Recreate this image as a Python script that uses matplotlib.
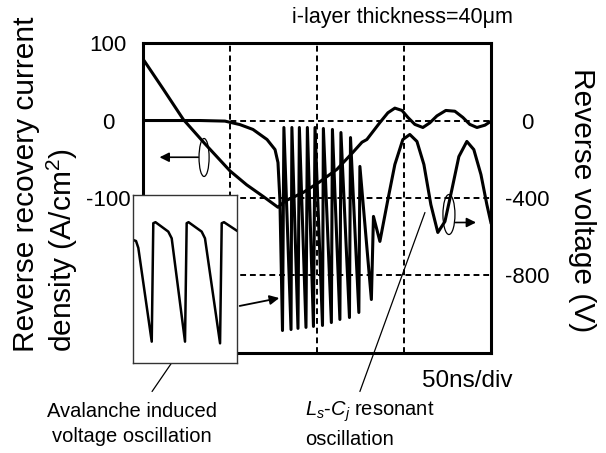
import matplotlib
matplotlib.use("Agg")
from matplotlib import pyplot as plt
from matplotlib.patches import Ellipse

plt.rcParams['font.family'] = ['Liberation Sans', 'DejaVu Sans']
plt.rcParams['mathtext.fontset'] = 'custom'
plt.rcParams['mathtext.rm'] = 'Liberation Sans'
plt.rcParams['mathtext.it'] = 'Liberation Sans:italic'
plt.rcParams['axes.unicode_minus'] = False

# time axis in ns, 50 ns/div
cur_t = [0.2, 11.5, 23.2, 35.6, 50.0, 59.6, 69.1, 77.6, 81.6, 92.0, 101.7, 111.5,
         120.7, 125.9, 128.7, 136.2, 140.8, 144.8, 148.9, 152.3, 156.3, 160.9,
         164.9, 169.0, 174.1, 179.3, 183.9, 187.9, 192.0, 196.6, 200.0]
cur_j = [78.7, 41, 1.3, -30, -65, -83, -98, -112, -104, -93, -79, -63,
         -41, -28, -24.5, -2.6, 10, 16, 13, 4, -5, -9,
         -3, 6, 13, 12, 4, -5, -9, -6, -1]

volt_t = [0, 32.8, 47.1, 55.7, 63.2, 71.3, 75.9, 77.6, 78.7, 80.2,
          81.0, 85.1, 85.6, 89.1, 89.9, 93.7, 94.5, 98.0, 98.9, 103.2, 103.7,
          108.3, 108.9, 113.2, 113.8, 118.7, 119.3, 124.1, 124.7, 131.3, 132.5,
          136.2, 140.8, 144.8, 149.4, 153.4, 157.5, 161.5, 165.5, 169.5, 173.6,
          177.6, 181.6, 186.2, 190.2, 194.3, 197.7, 200.0]
volt_v = [0, 0, -3, -21, -46, -98, -150, -217, -408, -1084,
          -36, -1079, -36, -1073, -36, -1068, -36, -1063, -36, -1058, -41,
          -1043, -46, -1027, -62, -1017, -88, -991, -237, -924, -495,
          -624, -408, -227, -98, -72, -108, -227, -434, -578, -521,
          -356, -186, -108, -150, -279, -434, -526]

# zoomed avalanche waveform (arbitrary units)
zoom_t = [0.003, 0.029, 0.051, 0.180, 0.195, 0.216, 0.339, 0.372, 0.500, 0.516,
          0.534, 0.660, 0.692, 0.837, 0.853, 0.875, 0.997]
zoom_v = [0.732, 0.726, 0.685, 0.127, 0.832, 0.838, 0.782, 0.742, 0.127, 0.832,
          0.838, 0.782, 0.742, 0.117, 0.832, 0.838, 0.788]

cur_ticks = [100, 0, -100]
volt_ticks = [0, -400, -800]
grid_t = [50, 100, 150]

fig = plt.figure(figsize=(6.06, 4.53), dpi=100, facecolor='white')
ax = fig.add_axes([0.236, 0.2208, 0.574, 0.6842])
ax2 = ax.twinx()

ax.set_xlim(0, 200)
ax.set_ylim(-300, 100)
ax2.set_ylim(-1200, 400)

ax.set_xticks(grid_t)
ax.set_xticklabels([])
ax.tick_params(axis='x', length=0)
ax.grid(axis='x', color='k', ls=(0, (3, 2)), lw=1.4)

ax.set_yticks(cur_ticks)
ax.tick_params(axis='y', length=0, pad=25, labelsize=16)
for lab in ax.get_yticklabels():
    lab.set_horizontalalignment('center')

ax2.set_yticks(volt_ticks)
ax2.tick_params(axis='y', length=0, pad=26, labelsize=16)
for lab in ax2.get_yticklabels():
    lab.set_horizontalalignment('center')
ax2.grid(axis='y', color='k', ls=(0, (3, 2)), lw=1.4)

for s in ax.spines.values():
    s.set_linewidth(2.2)
for s in ax2.spines.values():
    s.set_visible(False)

ax.plot(cur_t, cur_j, color='k', lw=2.2, solid_joinstyle='round')
ax2.plot(volt_t, volt_v, color='k', lw=2.2, solid_joinstyle='round')

# current marker (ellipse + arrow to left axis)
ax.add_patch(Ellipse((35.1, -47.7), 5.8, 49, fill=False, ec='k', lw=0.9))
ax.annotate('', xy=(7.9, -47.4), xytext=(33.4, -47.4),
            arrowprops=dict(arrowstyle='-|>', color='k', lw=1.2, mutation_scale=14))
# voltage marker (ellipse + arrow to right axis)
ax.add_patch(Ellipse((175.9, -121.3), 6.9, 51.6, fill=False, ec='k', lw=0.9))
ax.annotate('', xy=(193.1, -131.6), xytext=(178.0, -131.6),
            arrowprops=dict(arrowstyle='-|>', color='k', lw=1.2, mutation_scale=14))

# arrow from inset to the oscillation
ax.annotate('', xy=(79.9, -228.4), xytext=(54.0, -240.0), annotation_clip=False,
            arrowprops=dict(arrowstyle='-|>', color='k', lw=1.3, mutation_scale=14))
# leader lines for captions
ax.annotate('', xy=(16.7, -312), xytext=(5.2, -349.7), annotation_clip=False,
            arrowprops=dict(arrowstyle='-', color='k', lw=0.9, shrinkA=0, shrinkB=0))
ax.annotate('', xy=(162.1, -118.7), xytext=(124.7, -349.7), annotation_clip=False,
            arrowprops=dict(arrowstyle='-', color='k', lw=0.9, shrinkA=0, shrinkB=0))

# inset
ins = fig.add_axes([0.2195, 0.1987, 0.1716, 0.3709], zorder=5)
ins.set_facecolor('white')
ins.plot(zoom_t, zoom_v, color='k', lw=1.8, solid_joinstyle='round')
ins.set_xlim(0, 1)
ins.set_ylim(0, 1)
ins.set_xticks([])
ins.set_yticks([])
for s in ins.spines.values():
    s.set_linewidth(1.0)
    s.set_color('#333333')

fig.text(0.076, 0.223, 'Reverse recovery current\ndensity (A/cm$^2$)', rotation=90,
         ha='center', va='bottom', multialignment='left', fontsize=21.5, linespacing=1.15)
fig.text(0.960, 0.558, 'Reverse voltage (V)', rotation=270, ha='center', va='center',
         fontsize=21.5)
fig.text(0.847, 0.962, 'i-layer thickness=40\u03bcm', ha='right', va='center', fontsize=15.5)
fig.text(0.696, 0.159, '50ns/div', ha='left', va='center', fontsize=17.5)
fig.text(0.218, 0.063, 'Avalanche induced\nvoltage oscillation', ha='center', va='center',
         fontsize=14.5, linespacing=1.4)
fig.text(0.503, 0.063, '$L_s$-$C_j$ resonant\noscillation', ha='left', va='center',
         fontsize=14.5, linespacing=1.4)

plt.savefig('out.png', dpi=100, facecolor='white')
